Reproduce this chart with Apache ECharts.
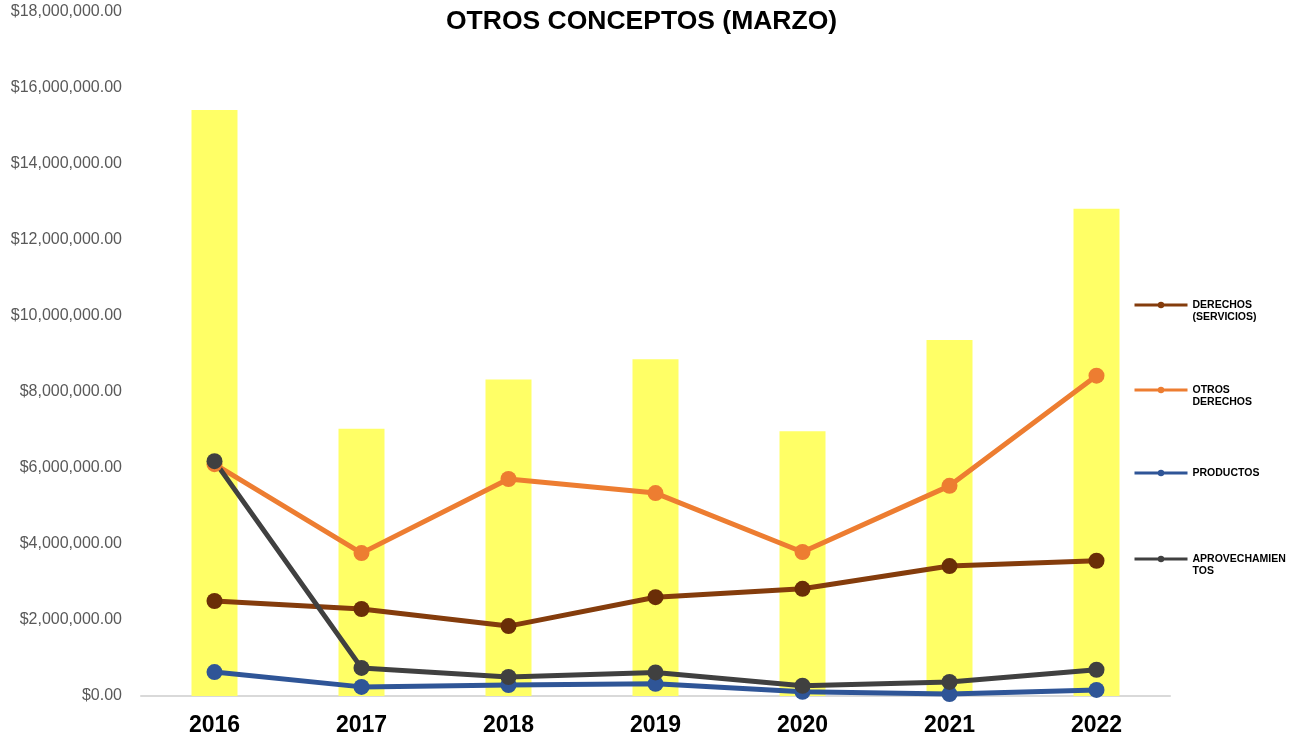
<!DOCTYPE html>
<html>
<head>
    <meta charset="utf-8">
    <title>OTROS CONCEPTOS (MARZO)</title>
    <script src="https://cdn.jsdelivr.net/npm/echarts@6/dist/echarts.min.js"></script>
    <style>
        html, body { margin: 0; padding: 0; background: #fff; }
    </style>
</head>
<body>
    <div id="main" style="width: 1300px;height:739px;"></div>

    <script type="text/javascript">
        // datos
        var anios = ['2016', '2017', '2018', '2019', '2020', '2021', '2022'];
        var total = [15420000, 7030000, 8330000, 8860000, 6970000, 9370000, 12820000];
        var derechosServicios = [2500000, 2290000, 1840000, 2600000, 2820000, 3420000, 3560000];
        var otrosDerechos = [6100000, 3760000, 5710000, 5340000, 3790000, 5530000, 8430000];
        var productos = [630000, 240000, 290000, 320000, 110000, 50000, 160000];
        var aprovechamientos = [6180000, 740000, 500000, 620000, 270000, 370000, 690000];

        var ejeY = { min: 0, max: 18000000, interval: 2000000 };

        var myChart = echarts.init(document.getElementById('main'));

        function linea(nombre, datos, color, colorPunto) {
            return {
                name: nombre,
                type: 'line',
                data: datos,
                symbol: 'circle',
                symbolSize: 16,
                lineStyle: { color: color, width: 5 },
                itemStyle: { color: colorPunto },
                z: 3
            };
        }

        //leyenda a la derecha, una por serie (linea en blanco arriba para alinear la primera linea con el icono)
        function leyenda(nombre, top, color) {
            return {
                data: [nombre],
                orient: 'vertical',
                left: 1133,
                top: top,
                padding: 0,
                itemWidth: 53,
                itemHeight: 8,
                itemStyle: { color: color },
                lineStyle: { color: color, width: 3 },
                formatter: function(n) {
                    return {
                        'DERECHOS (SERVICIOS)': ' \nDERECHOS\n(SERVICIOS)',
                        'OTROS DERECHOS': ' \nOTROS\nDERECHOS',
                        'PRODUCTOS': 'PRODUCTOS',
                        'APROVECHAMIENTOS': ' \nAPROVECHAMIEN\nTOS'
                    }[n];
                },
                textStyle: {
                    fontFamily: 'Liberation Sans, Arial',
                    fontSize: 10.5,
                    fontWeight: 'bold',
                    color: '#000',
                    lineHeight: 12
                }
            };
        }

        var option = {
            animation: false,
            title: {
                text: 'OTROS CONCEPTOS (MARZO)',
                left: 441,
                top: 3,
                textStyle: {
                    fontFamily: 'Liberation Sans, Arial',
                    fontSize: 26.5,
                    fontWeight: 'bold',
                    color: '#000'
                }
            },
            legend: [
                leyenda('DERECHOS (SERVICIOS)', 287, '#843c0c'),
                leyenda('OTROS DERECHOS', 372, '#ed7d31'),
                leyenda('PRODUCTOS', 467, '#2f5597'),
                leyenda('APROVECHAMIENTOS', 541, '#404040')
            ],
            grid: {
                left: 141,
                right: 130,
                top: 12,
                bottom: 43
            },
            xAxis: {
                type: 'category',
                data: anios,
                axisLine: { lineStyle: { color: '#d9d9d9', width: 2 } },
                axisTick: { show: false },
                axisLabel: {
                    margin: 18,
                    fontFamily: 'Liberation Sans, Arial',
                    fontSize: 23,
                    fontWeight: 'bold',
                    color: '#000'
                }
            },
            yAxis: {
                type: 'value',
                min: ejeY.min,
                max: ejeY.max,
                interval: ejeY.interval,
                splitLine: { show: false },
                axisLine: { show: false },
                axisTick: { show: false },
                axisLabel: {
                    margin: 19,
                    padding: [5, 0, 0, 0],
                    fontFamily: 'Liberation Sans, Arial',
                    fontSize: 16,
                    color: '#595959',
                    formatter: function(v) {
                        return '$' + v.toLocaleString('en-US', { minimumFractionDigits: 2, maximumFractionDigits: 2 });
                    }
                }
            },
            series: [
                {
                    name: 'TOTAL',
                    type: 'bar',
                    data: total,
                    barWidth: 46,
                    itemStyle: { color: '#ffff66' },
                    z: 1
                },
                linea('DERECHOS (SERVICIOS)', derechosServicios, '#843c0c', '#6a2e07'),
                linea('OTROS DERECHOS', otrosDerechos, '#ed7d31', '#ed7d31'),
                linea('PRODUCTOS', productos, '#2f5597', '#2f5597'),
                linea('APROVECHAMIENTOS', aprovechamientos, '#404040', '#404040')
            ]
        };

        myChart.setOption(option);
    </script>
</body>
</html>
